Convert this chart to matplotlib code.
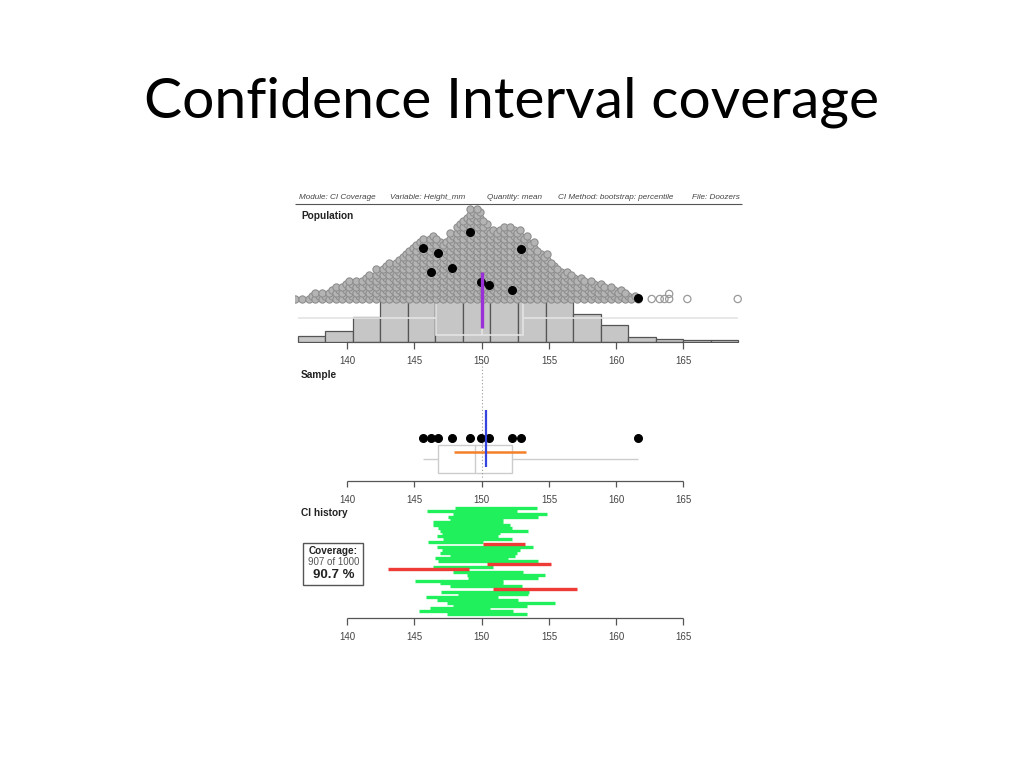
# -*- coding: utf-8 -*-
"""
slide: confidence interval coverage
population dot cloud + histogram, one sample, history of bootstrap CIs
"""
import numpy as np
import matplotlib.pyplot as plt
from matplotlib.patches import Rectangle

W, H = 1024, 768

# population dot stack: one column per 0.5 mm from 136.25, value = circles stacked in it
pop_col_start = 136.25
pop_col_step = 0.5
pop_rows = [1, 1, 2, 3, 3, 4, 5, 6, 7, 7,
            8, 9, 11, 12, 13, 14, 16, 18, 20, 21,
            22, 21, 20, 23, 26, 28, 31, 31, 27, 24,
            24, 25, 25, 24, 22, 20, 17, 16, 13, 11,
            10, 9, 8, 7, 7, 6, 5, 5, 4, 3,
            2, 1]
# lone circles in the right tail
pop_tail_x = [162.65, 163.25, 163.6, 163.95, 163.95, 165.3, 169.05]
pop_tail_row = [0, 0, 0, 0, 1, 0, 0]

# population histogram (16 bins over the range), tall bins are hidden under the dots
hist_lo, hist_hi = 136.3, 169.1
hist_counts = [34, 66, 150, 312, 468, 530, 686, 570, 468, 300, 170, 104, 30, 20, 10, 10]

pop_mean = 150.0
pop_five = [136.3, 146.6, 150.0, 153.1, 169.1]

# the sample of 10 and how high each sits in the population cloud (px)
sample = [145.65, 146.25, 146.72, 147.81, 149.15, 149.92, 150.57, 152.23, 152.93, 161.6]
sample_lift = [50.7, 26.7, 46.3, 31.3, 67.0, 17.3, 14.0, 9.0, 49.7, 1.3]
sample_ci = [147.94, 153.3]

# CI history, top row first
ci_lo = [148.01, 145.90, 147.89, 147.51, 147.64, 146.40, 146.40, 146.77, 146.89, 147.02,
         146.65, 147.14, 146.03, 150.12, 146.65, 147.02, 146.89, 147.64, 146.52, 146.77,
         150.37, 146.40, 143.05, 147.89, 148.88, 149.00, 145.03, 146.89, 147.64, 150.81,
         146.94, 148.26, 145.85, 146.65, 147.39, 147.89, 146.15, 145.36, 147.39]
ci_hi = [154.09, 152.60, 154.83, 154.21, 151.61, 151.61, 152.10, 152.23, 153.47, 151.36,
         151.24, 152.23, 150.12, 153.22, 153.79, 152.85, 152.60, 152.48, 151.98, 154.21,
         155.15, 150.86, 149.08, 153.10, 154.71, 154.21, 151.61, 151.61, 153.02, 157.06,
         153.52, 153.47, 151.24, 152.72, 155.45, 153.34, 150.62, 152.35, 153.34]
covered, n_ci = 907, 1000

ticks = [140, 145, 150, 155, 160, 165]

header = [('Module: CI Coverage', 299), ('Variable: Height_mm', 390), ('Quantity: mean', 487),
          ('CI Method: bootstrap: percentile', 558), ('File: Doozers', 692)]

FONT = 'Liberation Sans'
GREY = '#555555'

# pixel layout of the embedded plot
x0_px, x1_px = 295, 742
tick140_px, tick165_px = 347.3, 683.3
ppu = (tick165_px - tick140_px) / 25.0
xlim = (140 + (x0_px - tick140_px) / ppu, 140 + (x1_px - tick140_px) / ppu)
pop_base = 299.0
row_px = 3.0
ci_top, ci_step = 508.3, 2.78


def fig_axes(fig, xa, ya, xb, yb):
    return fig.add_axes([xa / W, 1 - yb / H, (xb - xa) / W, (yb - ya) / H])


def draw_axis(ax, y):
    ax.hlines(y, ticks[0], ticks[-1], colors=GREY, lw=0.9)
    ax.vlines(ticks, y, y + 6.5, colors=GREY, lw=0.9)
    for t in ticks:
        ax.text(t, y + 19, str(t), ha='center', va='center', fontsize=7, color='#444444', family=FONT)


def draw_box(ax, five, ytop, ybot, color, lw):
    ymid = (ytop + ybot) / 2
    ax.add_patch(Rectangle((five[1], ytop), five[3] - five[1], ybot - ytop, fill=False, ec=color, lw=lw))
    ax.vlines(five[2], ytop, ybot, colors=color, lw=lw)
    ax.hlines(ymid, five[0], five[1], colors=color, lw=lw)
    ax.hlines(ymid, five[3], five[4], colors=color, lw=lw)


fig = plt.figure(figsize=(W / 100, H / 100), dpi=100)
fig.patch.set_facecolor('white')

base = fig.add_axes([0, 0, 1, 1])
base.set_xlim(0, W)
base.set_ylim(H, 0)
base.axis('off')

base.text(512, 118, 'Confidence Interval coverage', ha='center', va='baseline', fontsize=41,
          family='Lato', color='black')

# header strip
for txt, xp in header:
    base.text(xp, 197.5, txt, ha='left', va='center', fontsize=5.9, style='italic', color='#444444',
              family=FONT)
base.hlines(203.5, x0_px, x1_px, colors=GREY, lw=0.8)

for txt, yp in [('Population', 216), ('Sample', 374.5), ('CI history', 513.5)]:
    base.text(301, yp, txt, ha='left', va='center', fontsize=7.3, weight='bold', color='#222222', family=FONT)

# coverage box
base.add_patch(Rectangle((303.3, 542.7), 60, 42.3, fill=False, ec=GREY, lw=1))
base.text(333.3, 550.5, 'Coverage:', ha='center', va='center', fontsize=7.2, weight='bold',
          color='#222222', family=FONT)
base.text(333.3, 562, '%d of %d' % (covered, n_ci), ha='center', va='center', fontsize=7.0,
          color='#555555', family=FONT)
base.text(333.3, 575.5, '%.1f %%' % (100.0 * covered / n_ci), ha='center', va='center', fontsize=9.5,
          weight='bold', color='#222222', family=FONT)

# histogram under the dot cloud
ax_hist = fig_axes(fig, x0_px, 299, x1_px, 343)
edges = np.linspace(hist_lo, hist_hi, len(hist_counts) + 1)
ax_hist.bar(edges[:-1], hist_counts, width=np.diff(edges), align='edge', color='#c6c6c6',
            edgecolor='#555555', linewidth=0.9)
ax_hist.set_xlim(xlim)
ax_hist.set_ylim(-6, 258)
ax_hist.axis('off')

ax = fig_axes(fig, x0_px, 188, x1_px, 648)
ax.set_xlim(xlim)
ax.set_ylim(648, 188)
ax.axis('off')
ax.patch.set_alpha(0)

# population box plot drawn faintly over the bars
draw_box(ax, pop_five, 300, 335, '#e4e4e4', 1.2)

# stacked population circles
px, py = [], []
for i, n in enumerate(pop_rows):
    for r in range(n):
        px.append(pop_col_start + i * pop_col_step + 0.25 * (r % 2) - 0.125)
        py.append(pop_base - r * row_px)
ax.scatter(px, py, s=27, facecolors='#b4b4b4', edgecolors='#8e8e8e', linewidths=0.8, zorder=2)
ax.scatter(pop_tail_x, [pop_base - r * row_px * 1.7 for r in pop_tail_row], s=27, facecolors='none',
           edgecolors='#9a9a9a', linewidths=0.9, zorder=2)
ax.scatter(sample, [pop_base - l for l in sample_lift], s=30, c='black', zorder=3)
ax.vlines(pop_mean, 271.7, 328.3, colors='#9b30d9', lw=2.4, zorder=4)
draw_axis(ax, 342)

# sample panel
ax.vlines(pop_mean, 356, 478, colors='#9a9a9a', linestyles=(0, (1, 2)), lw=0.8)
lower = np.median(sorted(sample)[:5])
upper = np.median(sorted(sample)[5:])
draw_box(ax, [min(sample), lower, np.median(sample), upper, max(sample)], 445, 472.5, '#cccccc', 1.0)
ax.scatter(sample, [437.7] * len(sample), s=30, c='black', zorder=3)
ax.hlines(452.3, sample_ci[0], sample_ci[1], colors='#f5802a', lw=1.8, zorder=4)
ax.vlines(np.mean(sample), 410, 466.7, colors='#3345dd', lw=1.6, zorder=5)
draw_axis(ax, 480.7)

# CI history
for i, (lo, hi) in enumerate(zip(ci_lo, ci_hi)):
    hit = lo <= pop_mean <= hi
    ax.hlines(ci_top + i * ci_step, lo, hi, colors='#1ff05c' if hit else '#ef3b36', lw=2.4,
              zorder=2 if hit else 3)
draw_axis(ax, 618.3)

fig.savefig('out.png', dpi=100, facecolor='white')
